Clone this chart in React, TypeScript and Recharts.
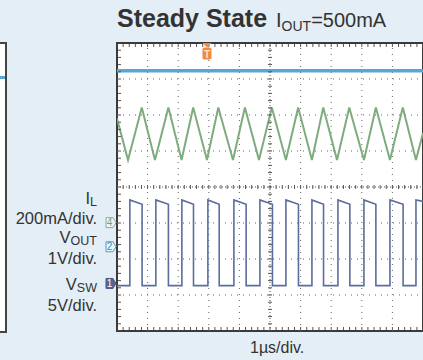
import React from 'react';
import { ComposedChart, Line, XAxis, YAxis, ReferenceLine, ReferenceArea, ReferenceDot } from 'recharts';

// Graticule (divisions)
const gridX = [1, 2, 3, 4, 6, 7, 8, 9];
const gridY = [-3, -2, -1, 1, 2, 3];
const minorStep = 0.2;

// VOUT (ch2, blue) – flat level in divisions
const voutTimes = [0, 10];
const voutLevels = [3.23, 3.23];

// IL (ch4, green) – triangle ripple
const ilValleyX = [0.36, 1.24, 2.11, 2.94, 3.79, 4.64, 5.52, 6.37, 7.19, 8.07, 8.92, 9.77];
const ilPeakX = [0.81, 1.68, 2.49, 3.31, 4.18, 5.06, 5.92, 6.74, 7.59, 8.46, 9.34];
const ilValley = 0.75;
const ilPeak = 2.21;
const ilStart = 1.9;
const ilEnd = 1.5;

// VSW (ch1, slate) – switching node square wave
const swRise = [0.42, 1.27, 2.12, 2.97, 3.82, 4.67, 5.52, 6.37, 7.22, 8.07, 8.92, 9.77];
const swFall = [0.82, 1.68, 2.5, 3.34, 4.22, 5.08, 5.93, 6.75, 7.61, 8.46, 9.35];
const swLow = -2.74;
const swHighStart = -0.36;
const swHighEnd = -0.48;

// Markers
const triggerX = 2.94;
const chMarkers = [
  { label: '4', y: -0.99, kind: 'il' },
  { label: '2', y: -1.66, kind: 'vout' },
  { label: '1', y: -2.68, kind: 'sw' },
];

const voutData = voutTimes.map((x, i) => ({ x, y: voutLevels[i] }));

const ilData = (() => {
  const pts: { x: number; y: number }[] = [{ x: 0, y: ilStart }];
  const all = [
    ...ilValleyX.map((x) => ({ x, y: ilValley })),
    ...ilPeakX.map((x) => ({ x, y: ilPeak })),
  ].sort((a, b) => a.x - b.x);
  pts.push(...all);
  pts.push({ x: 10, y: ilEnd });
  return pts;
})();

const swData = (() => {
  const pts: { x: number; y: number }[] = [{ x: 0, y: swLow }];
  swRise.forEach((r, i) => {
    pts.push({ x: r, y: swLow }, { x: r, y: swHighStart });
    if (i < swFall.length) {
      pts.push({ x: swFall[i], y: swHighEnd }, { x: swFall[i], y: swLow });
    }
  });
  pts.push({ x: 10, y: swHighStart - 0.04 });
  return pts;
})();

const nMinorX = Math.round(10 / minorStep);
const nMinorY = Math.round(8 / minorStep);
const hTicks = Array.from({ length: nMinorX + 1 }, (_, i) => ({ x: i * minorStep, y: 0 }));
const vTicks = Array.from({ length: nMinorY + 1 }, (_, i) => ({ x: 5, y: -4 + i * minorStep }));
const topTicks = hTicks.map((p) => ({ x: p.x, y: 4 }));
const botTicks = hTicks.map((p) => ({ x: p.x, y: -4 }));
const leftTicks = vTicks.map((p) => ({ x: 0, y: p.y }));

const tickDot = (dx: number, dy: number, offX = 0, offY = 0) => (p: any) => (
  <line
    key={`t${p.index}`}
    x1={p.cx - dx + offX}
    x2={p.cx + dx + offX}
    y1={p.cy - dy + offY}
    y2={p.cy + dy + offY}
    stroke="#555"
    strokeWidth={1}
  />
);

const markerColors: Record<string, { stroke: string; fill: string; text: string }> = {
  il: { stroke: '#7fae9c', fill: '#eef5f2', text: '#6f9f8d' },
  vout: { stroke: '#4f9fc4', fill: '#eaf4f9', text: '#3f8fb6' },
  sw: { stroke: '#4d5b86', fill: '#56648f', text: '#ffffff' },
};

const ChMarker = (label: string, kind: string) => (p: any) => {
  const c = markerColors[kind];
  const { cx, cy } = p;
  const pts = `${cx - 11},${cy - 5} ${cx - 4},${cy - 5} ${cx - 1},${cy} ${cx - 4},${cy + 5} ${cx - 11},${cy + 5}`;
  return (
    <g>
      <polygon points={pts} fill={c.fill} stroke={c.stroke} strokeWidth={1} />
      <text x={cx - 7.5} y={cy + 3.5} textAnchor="middle" fontSize={10} fontFamily="Liberation Sans, Arial, sans-serif" fill={c.text}>
        {label}
      </text>
    </g>
  );
};

const TriggerMarker = (p: any) => {
  const { cx, cy } = p;
  return (
    <g>
      <path d={`M${cx - 4.5},${cy} L${cx + 4.5},${cy} L${cx},${cy + 4.5} Z`} fill="#ef8a3e" />
      <rect x={cx - 4.5} y={cy + 4.5} width={9} height={12} rx={2} fill="#ef8a3e" />
      <text x={cx} y={cy + 14.5} textAnchor="middle" fontSize={10} fontWeight="bold" fontFamily="Liberation Sans, Arial, sans-serif" fill="#fde3cc">
        T
      </text>
    </g>
  );
};

const font = 'Liberation Sans, Arial, Helvetica, sans-serif';
const txt = '#333333';

export default function App() {
  return (
    <div
      style={{
        position: 'absolute',
        left: 0,
        top: 0,
        width: 423,
        height: 360,
        background: '#e4eef6',
        overflow: 'hidden',
      }}
    >
      {/* partial neighbouring scope screen at the far left */}
      <div
        style={{
          position: 'absolute',
          left: -10,
          top: 42,
          width: 15,
          height: 287,
          background: '#ffffff',
          borderRight: '2px solid #444',
          borderTop: '2px solid #444',
          borderBottom: '2px solid #444',
        }}
      >
        <div style={{ position: 'absolute', left: 0, top: 32, width: 15, height: 3, background: '#5aa6d2' }} />
      </div>

      <div style={{ position: 'absolute', left: 0, top: 0 }}>
        <ComposedChart width={423} height={360} margin={{ top: 43, right: 0, bottom: 29, left: 117 }}>
          <XAxis dataKey="x" type="number" domain={[0, 10]} hide allowDataOverflow />
          <YAxis type="number" domain={[-4, 4]} hide allowDataOverflow />
          <ReferenceArea x1={0} x2={10} y1={-4} y2={4} fill="#ffffff" fillOpacity={1} stroke="none" />
          {gridX.map((x) => (
            <ReferenceLine key={`gx${x}`} x={x} stroke="#666" strokeWidth={1} strokeDasharray="1 5" />
          ))}
          {gridY.map((y) => (
            <ReferenceLine key={`gy${y}`} y={y} stroke="#666" strokeWidth={1} strokeDasharray="1 5" />
          ))}
          <ReferenceLine x={5} stroke="#555" strokeWidth={1} strokeDasharray="1 2" />
          <ReferenceLine y={0} stroke="#555" strokeWidth={1} strokeDasharray="1 2" />
          <Line data={hTicks} dataKey="y" stroke="none" isAnimationActive={false} dot={tickDot(0, 2)} activeDot={false} />
          <Line data={vTicks} dataKey="y" stroke="none" isAnimationActive={false} dot={tickDot(2, 0)} activeDot={false} />
          <Line data={topTicks} dataKey="y" stroke="none" isAnimationActive={false} dot={tickDot(0, 1.5, 0, 2.5)} activeDot={false} />
          <Line data={botTicks} dataKey="y" stroke="none" isAnimationActive={false} dot={tickDot(0, 1.5, 0, -2.5)} activeDot={false} />
          <Line data={leftTicks} dataKey="y" stroke="none" isAnimationActive={false} dot={tickDot(1.5, 0, 2.5, 0)} activeDot={false} />
          <ReferenceArea x1={0} x2={10} y1={-4} y2={4} fill="none" stroke="#3a3a3a" strokeWidth={2} />

          <Line data={voutData} dataKey="y" type="linear" stroke="#5aa6d2" strokeWidth={3.5} dot={false} isAnimationActive={false} activeDot={false} />
          <Line data={ilData} dataKey="y" type="linear" stroke="#7eac7e" strokeWidth={2} dot={false} isAnimationActive={false} activeDot={false} />
          <Line data={swData} dataKey="y" type="linear" stroke="#5a6e9c" strokeWidth={1.6} dot={false} isAnimationActive={false} activeDot={false} />

          <ReferenceDot x={triggerX} y={4} r={0} shape={TriggerMarker} ifOverflow="visible" />
          {chMarkers.map((m) => (
            <ReferenceDot key={m.label} x={0} y={m.y} r={0} shape={ChMarker(m.label, m.kind)} ifOverflow="visible" />
          ))}
        </ComposedChart>
      </div>

      <svg width={423} height={360} style={{ position: 'absolute', left: 0, top: 0, pointerEvents: 'none' }}>
        <text x={117} y={27} fontFamily={font} fontSize={25} fontWeight="bold" fill={txt}>
          Steady State
        </text>
        <text x={276} y={27} fontFamily={font} fontSize={20} fill={txt}>
          I
          <tspan fontSize={14} dy={4}>OUT</tspan>
          <tspan dy={-4}>=500mA</tspan>
        </text>

        <text x={97} y={204} textAnchor="end" fontFamily={font} fontSize={16.5} fill={txt}>
          I<tspan fontSize={12.5} dy={2}>L</tspan>
        </text>
        <text x={97} y={224} textAnchor="end" fontFamily={font} fontSize={16.5} fill={txt}>
          200mA/div.
        </text>
        <text x={97} y={243} textAnchor="end" fontFamily={font} fontSize={16.5} fill={txt}>
          V<tspan fontSize={12.5} dy={2}>OUT</tspan>
        </text>
        <text x={97} y={264} textAnchor="end" fontFamily={font} fontSize={16.5} fill={txt}>
          1V/div.
        </text>
        <text x={97} y={290} textAnchor="end" fontFamily={font} fontSize={16.5} fill={txt}>
          V<tspan fontSize={12.5} dy={2}>SW</tspan>
        </text>
        <text x={97} y={311} textAnchor="end" fontFamily={font} fontSize={16.5} fill={txt}>
          5V/div.
        </text>

        <text x={250} y={353} fontFamily={font} fontSize={16} fill={txt}>
          1µs/div.
        </text>
      </svg>
    </div>
  );
}
